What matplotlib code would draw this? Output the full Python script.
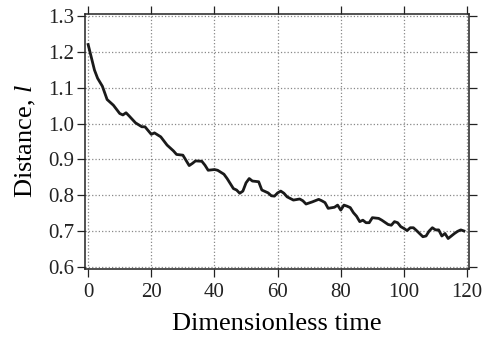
import matplotlib
matplotlib.use("Agg")
import matplotlib.pyplot as plt

time = [0, 2, 3, 4.5, 6, 8, 10, 11, 12, 13, 15, 17, 18, 20, 21, 23, 25, 27, 28, 30,
        32, 33, 34, 36, 37, 38, 40, 41, 43, 44, 46, 47, 48, 49, 50, 51, 52, 54, 55, 57,
        58, 59, 60, 61, 62, 63, 65, 67, 68, 69, 71, 73, 74, 75, 76, 78, 79, 80, 81, 82,
        83, 84, 85, 86, 87, 88, 89, 90, 92, 93, 95, 96, 97, 98, 99, 100, 101, 102, 103, 104,
        106, 107, 108, 109, 110, 111, 112, 113, 114, 115, 116, 117, 118, 119]
distance = [1.220, 1.149, 1.126, 1.104, 1.067, 1.051, 1.028, 1.024, 1.030, 1.021, 1.002, 0.991, 0.991, 0.970, 0.974, 0.963, 0.940, 0.924, 0.914, 0.912,
            0.883, 0.889, 0.896, 0.895, 0.884, 0.870, 0.872, 0.870, 0.859, 0.847, 0.819, 0.815, 0.806, 0.812, 0.835, 0.847, 0.840, 0.838, 0.815, 0.807,
            0.799, 0.798, 0.807, 0.812, 0.806, 0.796, 0.787, 0.790, 0.785, 0.776, 0.782, 0.789, 0.785, 0.780, 0.764, 0.767, 0.773, 0.759, 0.773, 0.770,
            0.766, 0.752, 0.742, 0.727, 0.731, 0.724, 0.724, 0.738, 0.736, 0.731, 0.719, 0.717, 0.727, 0.724, 0.713, 0.708, 0.702, 0.710, 0.710, 0.702,
            0.685, 0.687, 0.701, 0.710, 0.704, 0.704, 0.687, 0.694, 0.680, 0.687, 0.694, 0.700, 0.704, 0.701]
xticks = [0, 20, 40, 60, 80, 100, 120]
yticks = [0.6, 0.7, 0.8, 0.9, 1.0, 1.1, 1.2, 1.3]

plt.rcParams['font.family'] = ['Liberation Serif', 'DejaVu Serif']
plt.rcParams['mathtext.fontset'] = 'custom'
plt.rcParams['mathtext.it'] = 'Liberation Serif:italic'
plt.rcParams['mathtext.rm'] = 'Liberation Serif'

fig = plt.figure(figsize=(4.83, 3.37), dpi=100)
ax = fig.add_axes([0.1766, 0.2027, 0.7944, 0.7558])
ax.plot(time, distance, color='#1a1a1a', linewidth=2.0, solid_joinstyle='round')
ax.set_xlim(-0.9, 120.6)
ax.set_ylim(0.596, 1.305)
ax.set_xticks(xticks)
ax.set_xticklabels([str(v) for v in xticks])
ax.set_yticks(yticks)
ax.set_yticklabels([f"{v:.1f}" for v in yticks])
ax.grid(True, color='#888888', linestyle=':', linewidth=0.9)
ax.set_axisbelow(True)
ax.tick_params(direction='out', length=6, width=0.9, top=True, right=True,
               labelsize=15, colors='#222222')
ax.tick_params(axis='x', pad=4)
ax.tick_params(axis='y', pad=2)
for s in ax.spines.values():
    s.set_linewidth(1.1)
    s.set_color('#222222')
ax.set_xlabel('Dimensionless time', fontsize=19, labelpad=8)
ax.set_ylabel('Distance, $l$', fontsize=19, labelpad=7)
fig.savefig('out.png', dpi=100)
